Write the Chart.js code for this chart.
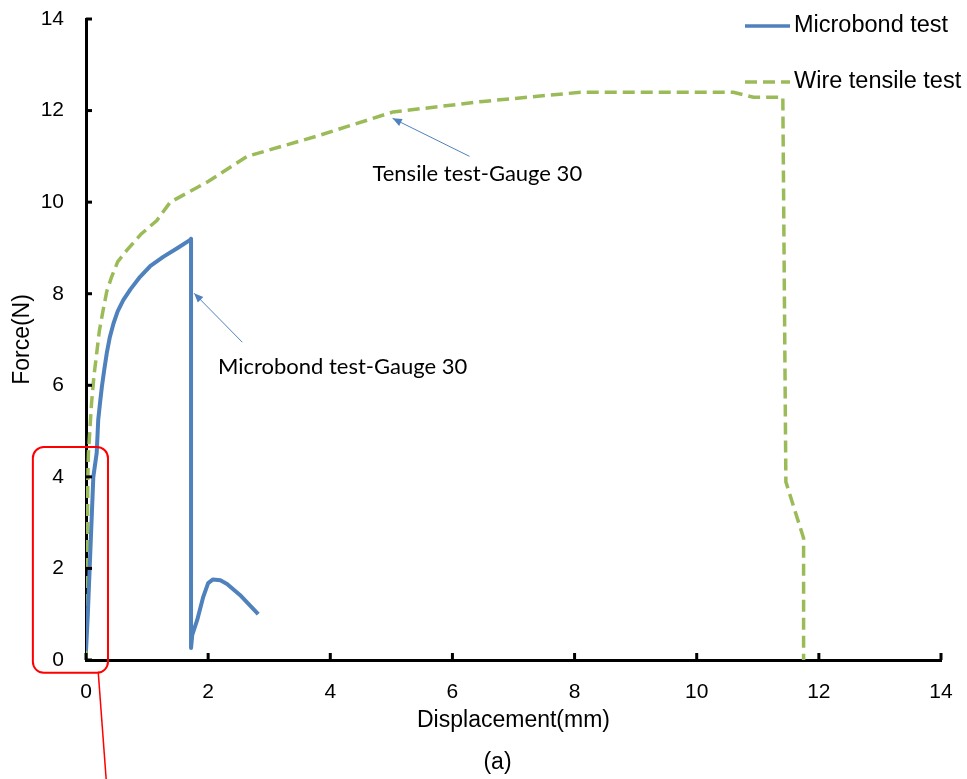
<!DOCTYPE html>
<html lang="en">
<head>
    <meta charset="UTF-8">
    <title>Force vs displacement</title>
    <style>
        body {
            margin: 0;
            padding: 0;
            background-color: #ffffff;
        }

        .chart-box {
            width: 967px;
            height: 779px;
        }
    </style>
</head>
<body>
    <div class="chart-box">
        <canvas id="chart"></canvas>
    </div>

    <script src="https://cdn.jsdelivr.net/npm/chart.js"></script>
    <script>
        // Microbond test (Gauge 30)
        var microX = [0, 0.03, 0.06, 0.12, 0.175, 0.2, 0.23, 0.26, 0.3, 0.34, 0.39, 0.45, 0.52, 0.61, 0.73, 0.885, 1.05, 1.27, 1.5, 1.70, 1.72, 1.72, 1.74, 1.82, 1.92, 2.0, 2.08, 2.2, 2.31, 2.52, 2.82];
        var microY = [0.2, 1.0, 2.0, 4.0, 4.52, 5.24, 5.62, 5.97, 6.35, 6.7, 7.05, 7.35, 7.62, 7.86, 8.1, 8.37, 8.6, 8.81, 9.0, 9.17, 9.2, 0.26, 0.55, 0.87, 1.38, 1.68, 1.76, 1.74, 1.66, 1.42, 1.0];

        // Wire tensile test
        var wireX = [0, 0.02, 0.03, 0.04, 0.09, 0.13, 0.175, 0.22, 0.28, 0.34, 0.42, 0.52, 0.67, 0.9, 1.16, 1.38, 2.0, 2.64, 3.8, 5.03, 6.5, 8.1, 10.6, 10.93, 11.41, 11.46, 11.75, 11.75];
        var wireY = [0, 2, 4, 4.52, 5.6, 6.2, 6.7, 7.2, 7.64, 8.05, 8.37, 8.7, 8.95, 9.3, 9.6, 10.0, 10.45, 11.0, 11.45, 11.97, 12.2, 12.4, 12.4, 12.29, 12.29, 3.89, 2.66, 0];

        var seriesNames = ['Microbond test', 'Wire tensile test'];
        var xTicks = [0, 2, 4, 6, 8, 10, 12, 14];
        var yTicks = [0, 2, 4, 6, 8, 10, 12, 14];

        function toPoints(xs, ys) {
            var pts = [];
            for (var i = 0; i < xs.length; i++) {
                pts.push({ x: xs[i], y: ys[i] });
            }
            return pts;
        }

        var blue = '#4f81bd';
        var green = '#9bbb59';
        var tickFont = { family: 'Liberation Sans, Arial, sans-serif', size: 21 };
        var titleFont = { family: 'Liberation Sans, Arial, sans-serif', size: 23 };

        // ticks inward, labels, arrows, red box and legend
        var extras = {
            id: 'extras',
            afterDraw: function (chart) {
                var ctx = chart.ctx;
                var xs = chart.scales.x;
                var ys = chart.scales.y;
                var area = chart.chartArea;

                ctx.save();
                ctx.strokeStyle = '#000';
                ctx.lineWidth = 3;
                xTicks.forEach(function (v) {
                    var px = xs.getPixelForValue(v);
                    ctx.beginPath();
                    ctx.moveTo(px, area.bottom);
                    ctx.lineTo(px, area.bottom - 7);
                    ctx.stroke();
                });
                yTicks.forEach(function (v) {
                    var py = ys.getPixelForValue(v);
                    ctx.beginPath();
                    ctx.moveTo(area.left, py);
                    ctx.lineTo(area.left + 6, py);
                    ctx.stroke();
                });

                // annotations
                function arrow(x1, y1, x2, y2) {
                    var ax = xs.getPixelForValue(x1), ay = ys.getPixelForValue(y1);
                    var bx = xs.getPixelForValue(x2), by = ys.getPixelForValue(y2);
                    var ang = Math.atan2(by - ay, bx - ax);
                    ctx.strokeStyle = blue;
                    ctx.fillStyle = blue;
                    ctx.lineWidth = 1;
                    ctx.beginPath();
                    ctx.moveTo(ax, ay);
                    ctx.lineTo(bx, by);
                    ctx.stroke();
                    ctx.beginPath();
                    ctx.moveTo(bx, by);
                    ctx.lineTo(bx - 10 * Math.cos(ang - 0.4), by - 10 * Math.sin(ang - 0.4));
                    ctx.lineTo(bx - 10 * Math.cos(ang + 0.4), by - 10 * Math.sin(ang + 0.4));
                    ctx.closePath();
                    ctx.fill();
                }
                arrow(6.28, 11.0, 5.02, 11.83);
                arrow(2.56, 6.94, 1.77, 8.01);

                ctx.fillStyle = '#000';
                ctx.font = '22px Lato, "Open Sans", sans-serif';
                ctx.textAlign = 'left';
                ctx.textBaseline = 'middle';
                ctx.fillText('Tensile test-Gauge 30', xs.getPixelForValue(4.69), ys.getPixelForValue(10.61));
                ctx.fillText('Microbond test-Gauge 30', xs.getPixelForValue(2.16), ys.getPixelForValue(6.4));

                // red highlight box near the origin
                var rx1 = xs.getPixelForValue(-0.87), rx2 = xs.getPixelForValue(0.36);
                var ry1 = ys.getPixelForValue(4.65), ry2 = ys.getPixelForValue(-0.28);
                ctx.strokeStyle = '#ff0000';
                ctx.lineWidth = 2;
                ctx.beginPath();
                ctx.roundRect(rx1, ry1, rx2 - rx1, ry2 - ry1, 11);
                ctx.stroke();
                ctx.lineWidth = 1.5;
                ctx.beginPath();
                ctx.moveTo(xs.getPixelForValue(0.2), ys.getPixelForValue(-0.26));
                ctx.lineTo(xs.getPixelForValue(0.33), ys.getPixelForValue(-2.6));
                ctx.stroke();

                // legend
                ctx.font = '23.5px Liberation Sans, Arial, sans-serif';
                chart.data.datasets.forEach(function (ds, i) {
                    var ly = 26 + i * 56;
                    ctx.strokeStyle = ds.borderColor;
                    ctx.lineWidth = 3.5;
                    ctx.setLineDash(ds.borderDash || []);
                    ctx.beginPath();
                    ctx.moveTo(745, ly);
                    ctx.lineTo(790, ly);
                    ctx.stroke();
                    ctx.setLineDash([]);
                    ctx.fillStyle = '#000';
                    ctx.fillText(ds.label, 794, ly);
                });

                ctx.font = '23px Liberation Sans, Arial, sans-serif';
                ctx.textAlign = 'center';
                ctx.fillText('(a)', (area.left + area.right) / 2 - 16, 763);
                ctx.restore();
            }
        };

        var config = {
            type: 'line',
            data: {
                datasets: [{
                    label: seriesNames[0],
                    data: toPoints(microX, microY),
                    borderColor: blue,
                    borderWidth: 4,
                    borderJoinStyle: 'round',
                    pointRadius: 0,
                    tension: 0,
                    fill: false
                }, {
                    label: seriesNames[1],
                    data: toPoints(wireX, wireY),
                    borderColor: green,
                    borderWidth: 3.5,
                    borderDash: [12, 6],
                    pointRadius: 0,
                    tension: 0,
                    fill: false
                }]
            },
            options: {
                responsive: false,
                animation: false,
                layout: { padding: { left: 0, top: 19, right: 26, bottom: 0 } },
                plugins: {
                    legend: { display: false },
                    tooltip: { enabled: false }
                },
                scales: {
                    x: {
                        type: 'linear',
                        min: 0,
                        max: 14,
                        afterFit: function (scale) {
                            scale.height = 119;
                            scale.paddingLeft = 0;
                            scale.paddingRight = 0;
                        },
                        afterBuildTicks: function (scale) {
                            scale.ticks = xTicks.map(function (v) { return { value: v }; });
                        },
                        grid: { display: false },
                        border: { display: true, width: 3, color: '#000' },
                        ticks: { color: '#000', font: tickFont, padding: 12, maxRotation: 0 },
                        title: {
                            display: true,
                            text: 'Displacement(mm)',
                            color: '#000',
                            font: titleFont,
                            padding: { top: 0, bottom: 45 }
                        }
                    },
                    y: {
                        min: 0,
                        max: 14,
                        afterFit: function (scale) {
                            scale.width = 86;
                            scale.paddingTop = 0;
                            scale.paddingBottom = 0;
                        },
                        afterBuildTicks: function (scale) {
                            scale.ticks = yTicks.map(function (v) { return { value: v }; });
                        },
                        grid: { display: false },
                        border: { display: true, width: 3, color: '#000' },
                        ticks: { color: '#000', font: tickFont, padding: 14 },
                        title: {
                            display: true,
                            text: 'Force(N)',
                            color: '#000',
                            font: titleFont,
                            padding: { top: 9, bottom: 0 }
                        }
                    }
                }
            },
            plugins: [extras]
        };

        var canvas = document.getElementById('chart');
        canvas.width = 967;
        canvas.height = 779;
        new Chart(canvas.getContext('2d'), config);
    </script>
</body>
</html>
